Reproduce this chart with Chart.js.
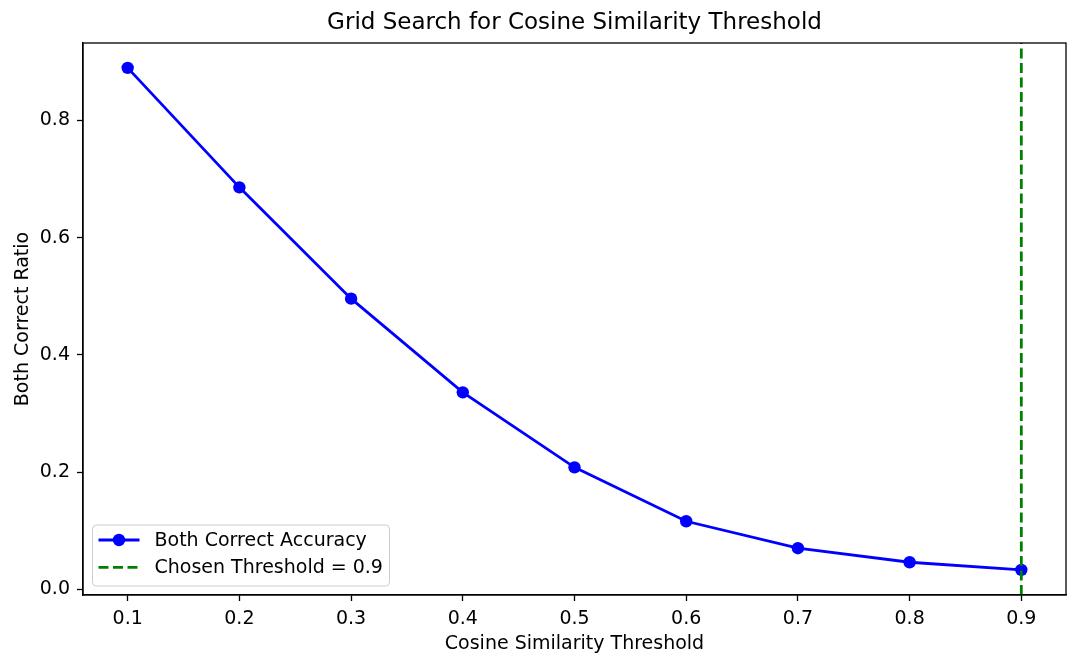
<!DOCTYPE html>
<html>
<head>
<meta charset="utf-8">
<script src="https://cdn.jsdelivr.net/npm/chart.js@4.4.1/dist/chart.umd.min.js"></script>
<style>
  html, body { margin: 0; padding: 0; background: #fff; }
  canvas { display: block; }
</style>
</head>
<body>
<canvas id="chart" width="1080" height="667"></canvas>
<script>
const thresholds = [0.1, 0.2, 0.3, 0.4, 0.5, 0.6, 0.7, 0.8, 0.9];
const bothCorrect = [0.890, 0.686, 0.496, 0.336, 0.208, 0.116, 0.070, 0.046, 0.033];
const chosenThreshold = 0.9;
const xTicks = [0.1, 0.2, 0.3, 0.4, 0.5, 0.6, 0.7, 0.8, 0.9];
const yTicks = [0, 0.2, 0.4, 0.6, 0.8];
const xRange = [0.06, 0.94];
const yRange = [-0.0099, 0.9324];

const FONT = 'DejaVu Sans';
const titleText = 'Grid Search for Cosine Similarity Threshold';
const legendItems = [
  { label: 'Both Correct Accuracy', color: '#0000ff', dash: [], marker: true },
  { label: 'Chosen Threshold = ' + chosenThreshold, color: '#008000', dash: [10, 4.5], marker: false }
];

// frame, title over the axes, and legend in the lower left
const decor = {
  id: 'decor',
  afterDraw(chart) {
    const { ctx, chartArea: a } = chart;
    ctx.save();
    ctx.strokeStyle = '#000';
    ctx.lineWidth = 1.3;
    ctx.strokeRect(a.left, a.top, a.right - a.left, a.bottom - a.top);

    ctx.fillStyle = '#000';
    ctx.font = `23px "${FONT}"`;
    ctx.textAlign = 'center';
    ctx.textBaseline = 'middle';
    ctx.fillText(titleText, (a.left + a.right) / 2, 23);

    const bx = a.left + 9.5, by = a.top + 482, bw = 297, bh = 61;
    ctx.beginPath();
    ctx.roundRect(bx, by, bw, bh, 4);
    ctx.fillStyle = 'rgba(255,255,255,0.8)';
    ctx.fill();
    ctx.strokeStyle = '#cccccc';
    ctx.lineWidth = 1;
    ctx.stroke();

    ctx.font = `19px "${FONT}"`;
    ctx.textAlign = 'left';
    legendItems.forEach((item, i) => {
      const y = by + 15 + i * 27.3;
      ctx.beginPath();
      ctx.setLineDash(item.dash);
      ctx.strokeStyle = item.color;
      ctx.lineWidth = 2.8;
      ctx.moveTo(bx + 6, y);
      ctx.lineTo(bx + 47, y);
      ctx.stroke();
      ctx.setLineDash([]);
      if (item.marker) {
        ctx.beginPath();
        ctx.arc(bx + 26.5, y, 6.2, 0, Math.PI * 2);
        ctx.fillStyle = item.color;
        ctx.fill();
      }
      ctx.fillStyle = '#000';
      ctx.fillText(item.label, bx + 62, y + 1);
    });
    ctx.restore();
  }
};

new Chart(document.getElementById('chart'), {
  type: 'line',
  data: {
    datasets: [{
      label: legendItems[1].label,
      data: [{ x: chosenThreshold, y: yRange[0] }, { x: chosenThreshold, y: yRange[1] }],
      borderColor: '#008000',
      borderWidth: 2.8,
      borderDash: [10, 4.5],
      pointRadius: 0,
      order: 0
    }, {
      label: legendItems[0].label,
      data: thresholds.map((x, i) => ({ x, y: bothCorrect[i] })),
      borderColor: '#0000ff',
      backgroundColor: '#0000ff',
      borderWidth: 2.8,
      pointRadius: 6.2,
      pointBorderWidth: 0,
      tension: 0,
      order: 1
    }]
  },
  options: {
    responsive: false,
    animation: false,
    layout: { padding: { top: 43, right: 14, left: 0, bottom: 0 } },
    plugins: { legend: { display: false }, title: { display: false }, tooltip: { enabled: false } },
    scales: {
      x: {
        type: 'linear',
        min: xRange[0],
        max: xRange[1],
        afterBuildTicks: (scale) => { scale.ticks = xTicks.map(v => ({ value: v })); },
        afterFit: (scale) => { scale.height = 72; },
        ticks: {
          callback: (v) => v.toFixed(1),
          color: '#000',
          font: { family: FONT, size: 19 },
          padding: 7,
          maxRotation: 0
        },
        grid: { drawOnChartArea: false, drawTicks: true, tickLength: 6, tickColor: '#000', tickWidth: 1.3 },
        border: { display: true, color: '#000', width: 1.3 },
        title: {
          display: true,
          text: 'Cosine Similarity Threshold',
          color: '#000',
          font: { family: FONT, size: 19 },
          padding: { top: 0, bottom: 12 }
        }
      },
      y: {
        type: 'linear',
        min: yRange[0],
        max: yRange[1],
        afterBuildTicks: (scale) => { scale.ticks = yTicks.map(v => ({ value: v })); },
        afterFit: (scale) => { scale.width = 83; },
        ticks: {
          callback: (v) => v.toFixed(1),
          color: '#000',
          font: { family: FONT, size: 19 },
          padding: 7
        },
        grid: { drawOnChartArea: false, drawTicks: true, tickLength: 6, tickColor: '#000', tickWidth: 1.3 },
        border: { display: true, color: '#000', width: 1.3 },
        title: {
          display: true,
          text: 'Both Correct Ratio',
          color: '#000',
          font: { family: FONT, size: 19 },
          padding: { top: 12, bottom: 0 }
        }
      }
    }
  },
  plugins: [decor]
});
</script>
</body>
</html>
